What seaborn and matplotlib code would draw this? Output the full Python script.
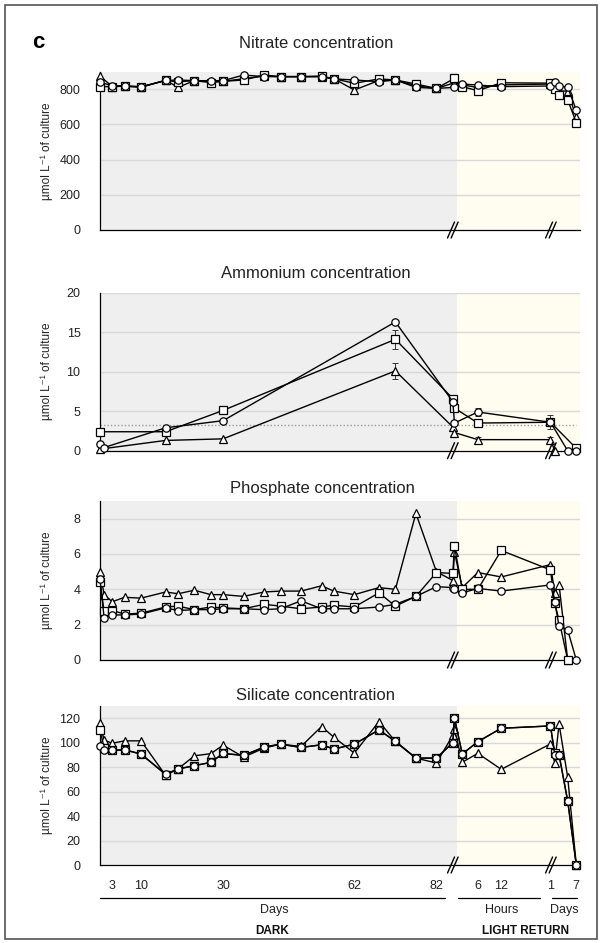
import numpy as np
import pandas as pd
import matplotlib
matplotlib.use("Agg")
import matplotlib.pyplot as plt
from matplotlib.lines import Line2D
from matplotlib.patches import Rectangle
from matplotlib.transforms import IdentityTransform
import seaborn as sns

sns.set_theme(style="white")
plt.rcParams["font.family"] = ["Liberation Sans", "DejaVu Sans"]

nan = np.nan

# sampling times: dark period (days), light return (hours, then days)
dark_days = [0, 1, 3, 6, 10, 16, 19, 23, 27, 30, 35, 40, 44, 49, 54, 57, 62, 68, 72, 77, 82, 86]
light_hours = [0, 2, 6, 12]
light_days = [1, 2, 3, 5, 7]

# ---------------- Nitrate (umol/L) ----------------
nitrate_circle = ([840, nan, 820, 820, 815, 850, 853, 849, 849, 849, 881, 872, 872, 872, 872, 859, 853, 843, 853, 811, 805, nan]
                  + [811, 830, 824, 815]
                  + [819, 843, 819, 811, 682])
nitrate_square = ([815, nan, 815, 818, 812, 850, 843, 849, 838, 845, 853, 881, 872, 872, 875, 860, 834, 859, 853, 830, 805, nan]
                  + [862, 815, 792, 837]
                  + [835, 800, 767, 740, 610])
nitrate_triangle = ([875, nan, 815, 818, 812, 852, 811, 849, 845, 845, 860, 875, 872, 872, 872, 860, 796, 850, 853, 820, 805, nan]
                    + [837, 825, 810, 825]
                    + [830, 820, 790, 790, 640])

# ---------------- Ammonium ----------------
ammonium_circle = ([0.9, 0.4, nan, nan, nan, 2.9, nan, nan, nan, 3.8, nan, nan, nan, nan, nan, nan, nan, nan, 16.3, nan, nan, 6.2]
                   + [3.5, nan, 4.9, nan]
                   + [3.6, nan, nan, 0.0, 0.0])
ammonium_square = ([2.4, nan, nan, nan, nan, 2.4, nan, nan, nan, 5.1, nan, nan, nan, nan, nan, nan, nan, nan, 14.1, nan, nan, 6.6]
                   + [5.4, nan, 3.5, nan]
                   + [3.6, nan, nan, nan, 0.3])
ammonium_triangle = ([0.2, nan, nan, nan, nan, 1.3, nan, nan, nan, 1.5, nan, nan, nan, nan, nan, nan, nan, nan, 10.1, nan, nan, 3.0]
                     + [2.3, nan, 1.4, nan]
                     + [1.4, 0.0, nan, nan, nan])
ammonium_circle_err = [nan] * 18 + [0.3, nan, nan, 0.3] + [nan, nan, 0.5, nan] + [0.9, nan, nan, nan, nan]
ammonium_square_err = [nan] * 18 + [1.2, nan, nan, 0.4] + [nan, nan, 0.3, nan] + [0.3, nan, nan, nan, nan]
ammonium_triangle_err = [nan] * 18 + [1.0, nan, nan, nan] + [nan, nan, 0.3, nan] + [0.3, nan, nan, nan, nan]
ammonium_limit = 3.3

# ---------------- Phosphate ----------------
phosphate_circle = ([4.6, 2.4, 2.55, 2.55, 2.6, 2.95, 2.8, 2.85, 2.85, 2.9, 2.9, 2.85, 2.9, 3.35, 2.9, 2.9, 2.9, 3.0, 3.15, 3.6, 4.15, 4.1]
                    + [4.0, 3.8, 4.05, 3.9]
                    + [4.25, 3.3, 1.9, 1.7, 0.0])
phosphate_square = ([4.4, 2.75, 2.8, 2.6, 2.65, 3.0, 3.05, 2.85, 3.0, 2.95, 2.9, 3.15, 3.05, 2.9, 3.0, 3.1, 3.0, 3.8, 3.05, 3.6, 4.95, 4.9]
                    + [6.45, 4.0, 4.0, 6.2]
                    + [5.1, 3.2, 2.25, 0.0, nan])
phosphate_triangle = ([5.0, 3.7, 3.3, 3.55, 3.5, 3.85, 3.75, 3.95, 3.7, 3.7, 3.6, 3.85, 3.9, 3.9, 4.2, 3.9, 3.7, 4.1, 4.0, 8.3, 5.0, 4.5]
                      + [6.1, 4.1, 4.95, 4.7]
                      + [5.4, 3.8, 4.25, 0.0, nan])

# ---------------- Silicate ----------------
silicate_circle = ([97.5, 94, 93.7, 94.2, 90.7, 74.4, 78.5, 81.2, 83.9, 91.2, 89.6, 96.4, 98.8, 96.1, 98.3, 94.8, 98.8, 110.5, 101, 87.4, 87.4, 100]
                   + [120, 90.8, 100.8, 111.8]
                   + [113.7, 90, 90, 52.3, 0])
silicate_square = ([110, 96, 93.7, 94.2, 90.7, 73.9, 78.5, 81.2, 83.9, 91.2, 89.6, 96.4, 98.8, 96.1, 98.3, 94.8, 98.8, 110.5, 101, 87.4, 87.4, 100]
                   + [120, 90.8, 100.8, 111.8]
                   + [113.7, 91.3, 90, 52.3, 0])
silicate_triangle = ([116, 102, 99.6, 101.5, 101.5, 73.3, 78.5, 89.3, 91, 98, 88.2, 95.6, 98.8, 96.9, 113.2, 104.5, 91.5, 117.3, 101, 87.4, 83.4, 106]
                     + [111, 84, 91.3, 78.2]
                     + [99, 83.2, 115.3, 71.7, 0])

# x tick labels
dark_ticks = [3, 10, 30, 62, 82]
hour_ticks = [6, 12]
day_ticks = [1, 7]


def hour_pos(h):
    return 86.4 + 0.95 * h


def day_pos(d):
    return 108.75 + 1.05 * d


x_pos = np.array(list(dark_days) + [hour_pos(h) for h in light_hours] + [day_pos(d) for d in light_days])
tick_pos = list(dark_ticks) + [hour_pos(h) for h in hour_ticks] + [day_pos(d) for d in day_ticks]
tick_lab = [str(t) for t in dark_ticks + hour_ticks + day_ticks]

W, H = 602, 943
fig = plt.figure(figsize=(W / 100, H / 100), dpi=100)


def fx(px):
    return px / W


def fy(py):
    return 1 - py / H


markers = {"circle": "o", "square": "s", "triangle": "^"}
order = ["triangle", "square", "circle"]

panels = [
    ("Nitrate concentration", [nitrate_circle, nitrate_square, nitrate_triangle], None,
     900, [0, 200, 400, 600, 800], 71.7, 230, 316, 43),
    ("Ammonium concentration", [ammonium_circle, ammonium_square, ammonium_triangle],
     [ammonium_circle_err, ammonium_square_err, ammonium_triangle_err],
     20, [0, 5, 10, 15, 20], 292.7, 450.7, 316, 273),
    ("Phosphate concentration", [phosphate_circle, phosphate_square, phosphate_triangle], None,
     9, [0, 2, 4, 6, 8], 501, 660, 322, 488),
    ("Silicate concentration", [silicate_circle, silicate_square, silicate_triangle], None,
     130, [0, 20, 40, 60, 80, 100, 120], 706, 865, 316, 695),
]

axes = []
for i, (title, vals, errs, ytop, yticks, top_px, bot_px, tx, ty) in enumerate(panels):
    ax = fig.add_axes([fx(100), fy(bot_px), fx(480), (bot_px - top_px) / H])
    axes.append(ax)
    ax.axvspan(0, 87.1, color="#efefef", lw=0, zorder=0)
    ax.axvspan(87.1, 117, color="#fffdf0", lw=0, zorder=0)
    for t in yticks[1:]:
        ax.axhline(t, color="#d8d8d8", lw=1.0, zorder=1)

    rows = []
    for name, v in zip(["circle", "square", "triangle"], vals):
        for x, y in zip(x_pos, v):
            if not np.isnan(y):
                rows.append({"pos": x, "value": y, "series": name})
    df = pd.DataFrame(rows)

    if errs is not None:
        for v, e in zip(vals, errs):
            v = np.array(v, float)
            e = np.array(e, float)
            m = ~np.isnan(e)
            ax.errorbar(x_pos[m], v[m], yerr=e[m], fmt="none", ecolor="#333333",
                        elinewidth=0.7, capsize=2, capthick=0.7, zorder=2)
        ax.hlines(ammonium_limit, 0, 116, colors="#9a9a9a", linestyles=(0, (1, 1.5)), lw=1.0, zorder=1.5)

    sns.lineplot(data=df, x="pos", y="value", style="series", style_order=order,
                 markers=markers, dashes=False, color="black", lw=1.0,
                 markersize=5.3, markerfacecolor="white", markeredgecolor="black",
                 markeredgewidth=0.9, estimator=None, sort=True, legend=False,
                 ax=ax, zorder=3, clip_on=False)

    ax.set_xlim(0, 117)
    ax.set_ylim(0, ytop)
    ax.set_yticks(yticks)
    ax.set_xticks(tick_pos)
    if i == len(panels) - 1:
        ax.set_xticklabels(tick_lab)
    else:
        ax.set_xticklabels([])
    ax.set_xlabel("")
    ax.set_ylabel("µmol L⁻¹ of culture", fontsize=8.5, color="#222222")
    ax.yaxis.set_label_coords(-0.097, 0.5)
    ax.grid(False)
    for s in ["top", "right"]:
        ax.spines[s].set_visible(False)
    for s in ["left", "bottom"]:
        ax.spines[s].set_color("black")
        ax.spines[s].set_linewidth(0.9)
        ax.spines[s].set_zorder(2.5)
    ax.tick_params(axis="y", length=0, pad=14, labelsize=9, labelcolor="#222222")
    ax.tick_params(axis="x", direction="inout", length=6, width=0.8, color="black",
                   pad=8, labelsize=9, labelcolor="#222222")
    fig.text(fx(tx), fy(ty), title, ha="center", va="center", fontsize=12, color="#222222")

# axis break marks
for ax in axes:
    for bp in (86.0, 109.9):
        x0, y0 = ax.transData.transform((bp, 0))
        for dx in (-1.8, 1.8):
            fig.add_artist(Line2D([x0 + dx - 3.5, x0 + dx + 3.5], [y0 - 8, y0 + 8],
                                  transform=IdentityTransform(), color="black", lw=1.0))

# period brackets and labels under the last panel
for x0, x1 in [(100, 445), (458, 540), (552, 577)]:
    fig.add_artist(Line2D([fx(x0), fx(x1)], [fy(898), fy(898)], color="black", lw=0.9))
fig.text(fx(274), fy(910), "Days", ha="center", va="center", fontsize=9, color="#222222")
fig.text(fx(502), fy(910), "Hours", ha="center", va="center", fontsize=9, color="#222222")
fig.text(fx(564), fy(910), "Days", ha="center", va="center", fontsize=9, color="#222222")
fig.text(fx(272), fy(931), "DARK", ha="center", va="center", fontsize=8.5, fontweight="bold",
         family=["Liberation Sans Narrow", "Liberation Sans"], color="#111111")
fig.text(fx(525), fy(931), "LIGHT RETURN", ha="center", va="center", fontsize=8.5, fontweight="bold",
         family=["Liberation Sans Narrow", "Liberation Sans"], color="#111111")

fig.text(fx(38), fy(43), "c", ha="center", va="center", fontsize=16, fontweight="bold", color="black")
fig.add_artist(Rectangle((fx(5), fy(939)), fx(592), (939 - 5) / H, fill=False,
                         edgecolor="#555555", lw=1.2, transform=fig.transFigure))

fig.savefig("out.png", dpi=100)
